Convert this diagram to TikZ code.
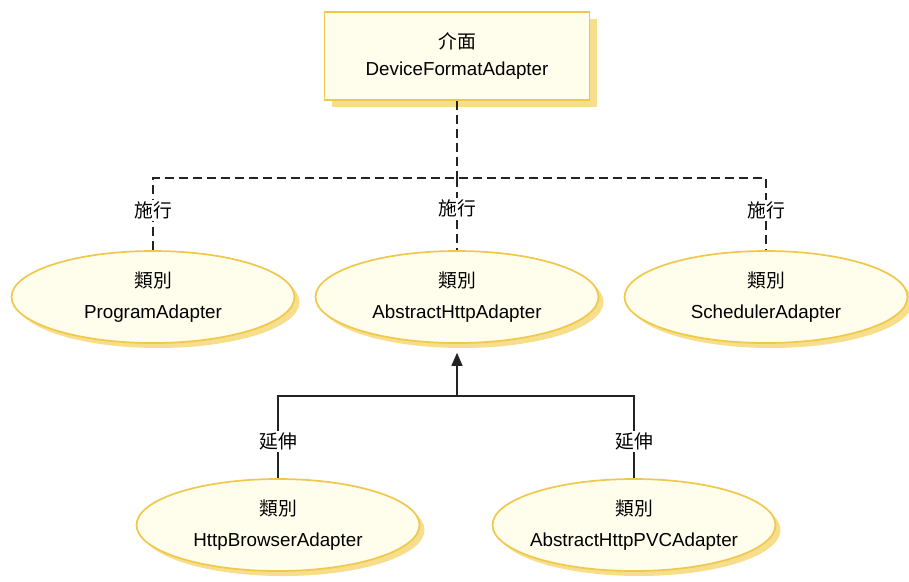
\documentclass[tikz,border=0pt]{standalone}
\usepackage{fontspec}
\setmainfont{Liberation Sans}
\newfontfamily\cjk{Noto Sans CJK TC}
\usetikzlibrary{shapes.geometric, shadows, arrows.meta}
\definecolor{cfill}{RGB}{255,253,235}
\definecolor{cedge}{RGB}{240,200,75}
\definecolor{cshade}{RGB}{246,222,140}
\definecolor{cline}{RGB}{35,35,35}
\newcommand{\kindtag}{{\cjk 類別}}

\tikzset{
  umlbox/.style={draw=cedge, line width=1.7pt, fill=cfill,
    minimum width=265pt, minimum height=88pt, inner sep=0pt,
    align=center, font=\fontsize{18.8}{27}\selectfont,
    drop shadow={fill=cshade, opacity=1, shadow xshift=7pt, shadow yshift=-7pt}},
  umlclass/.style={ellipse, draw=cedge, line width=1.7pt, fill=cfill,
    minimum width=283pt, minimum height=92pt, inner xsep=-20pt, inner ysep=0pt,
    align=center, font=\fontsize{18.8}{31}\selectfont,
    drop shadow={fill=cshade, opacity=1, shadow xshift=5pt, shadow yshift=-5pt}},
  realize/.style={draw=cline, line width=1.1pt, dash pattern=on 9pt off 5pt},
  extend/.style={draw=cline, line width=1.1pt},
  rel/.style={fill=white, inner sep=2pt, text=black,
    font=\cjk\fontsize{18.8}{20}\selectfont}
}

\begin{document}
\begin{tikzpicture}[x=1pt, y=-1pt]
  \useasboundingbox (0,0) rectangle (909,581);

  % interface at the top
  \node[umlbox] (iface) at (457,56) {{\cjk 介面}\\DeviceFormatAdapter};

  % implementing classes
  \node[umlclass] (prog) at (153,297) {\kindtag\\ProgramAdapter};
  \node[umlclass] (abstract) at (457,297) {\kindtag\\AbstractHttpAdapter};
  \node[umlclass] (sched) at (766,297) {\kindtag\\SchedulerAdapter};

  % subclasses
  \node[umlclass] (hb) at (278,525) {\kindtag\\HttpBrowserAdapter};
  \node[umlclass] (pvc) at (634,525) {\kindtag\\AbstractHttpPVCAdapter};

  \coordinate (bus) at (457,178);
  \coordinate (fork) at (457,396);

  % realization
  \draw[realize] (iface.south) -- (bus);
  \draw[realize] (prog.north) -- node[rel, pos=0.55] {施行} (prog.north |- bus)
    -- (sched.north |- bus) -- node[rel, pos=0.45] {施行} (sched.north);
  \draw[realize] (bus) -- node[rel, pos=0.42] {施行} (abstract.north);

  % generalization
  \draw[extend, -{Triangle[width=11pt, length=13pt]}, shorten >=9pt]
    (fork) -- (abstract.south);
  \draw[extend] (hb.north) -- node[rel, pos=0.45] {延伸} (hb.north |- fork)
    -- (pvc.north |- fork) -- node[rel, pos=0.55] {延伸} (pvc.north);
\end{tikzpicture}
\end{document}
